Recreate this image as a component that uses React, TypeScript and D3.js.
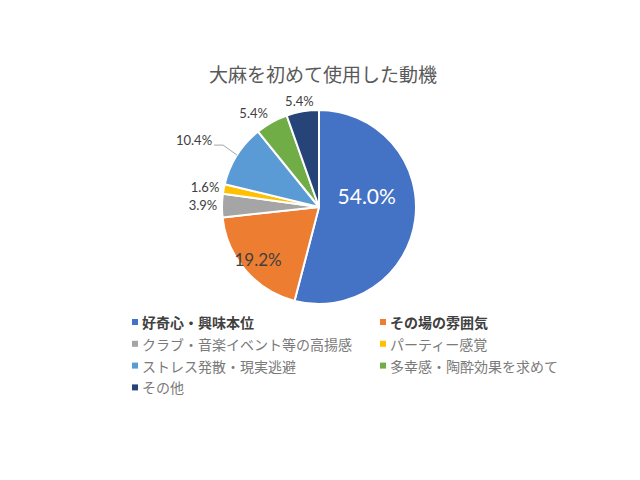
import React from "react";
import * as d3 from "d3";

const title = "大麻を初めて使用した動機";
const categories = [
  "好奇心・興味本位",
  "その場の雰囲気",
  "クラブ・音楽イベント等の高揚感",
  "パーティー感覚",
  "ストレス発散・現実逃避",
  "多幸感・陶酔効果を求めて",
  "その他",
];
const values = [54.0, 19.2, 3.9, 1.6, 10.4, 5.4, 5.4];
const colors = ["#4472C4", "#ED7D31", "#A5A5A5", "#FFC000", "#5B9BD5", "#70AD47", "#264478"];
const boldLegend = [true, true, false, false, false, false, false];

// layout
const W = 640, H = 480;
const cx = 319, cy = 207, R = 97;
const insideLabel = [true, true, false, false, false, false, false];

export default function App() {
  const pie = d3.pie<number>().sort(null).value((d) => d)(values);
  const arc = d3.arc<d3.PieArcDatum<number>>().innerRadius(0).outerRadius(R);
  const fmt = (v: number) => v.toFixed(1) + "%";
  const numFont = "Lato, 'Noto Sans', sans-serif";
  const jpFont = "'Noto Sans CJK JP', sans-serif";

  const labels = pie.map((p, i) => {
    const mid = (p.startAngle + p.endAngle) / 2;
    const s = Math.sin(mid), c = -Math.cos(mid);
    if (insideLabel[i]) {
      if (i === 0) {
        const r = 49;
        const a = mid - 0.36;
        return (
          <text key={i} x={cx + Math.sin(a) * r} y={cy - Math.cos(a) * r} textAnchor="middle" dominantBaseline="central"
            fill="#fff" fontSize={21} fontFamily={numFont}>{fmt(values[i])}</text>
        );
      }
      const r = R * 0.83;
      return (
        <text key={i} x={cx + s * r} y={cy + c * r} textAnchor="middle" dominantBaseline="central"
          fill="#404040" fontSize={17} fontFamily={numFont}>{fmt(values[i])}</text>
      );
    }
    const w = fmt(values[i]).length * 7.5;
    if (i === 4) {
      // pushed out with leader line
      const ex = cx + s * R, ey = cy + c * R;
      const kx = ex - 14, ky = ey - 10;
      const lx = kx - 9;
      return (
        <g key={i}>
          <polyline points={`${ex},${ey} ${kx},${ky} ${lx},${ky}`} fill="none" stroke="#A6A6A6" strokeWidth={1} />
          <text x={lx - 2} y={ky - 5} textAnchor="end" dominantBaseline="central" fill="#404040" fontSize={13} fontFamily={numFont}>{fmt(values[i])}</text>
        </g>
      );
    }
    const pr = R + 4;
    const x = cx + s * pr + s * (w / 2) * (i === 5 ? 2.2 : 1);
    const y = cy + c * pr + c * 7;
    return (
      <text key={i} x={x} y={y} textAnchor="middle" dominantBaseline="central" fill="#404040" fontSize={13} fontFamily={numFont}>
        {fmt(values[i])}
      </text>
    );
  });

  const legendX = [132, 380];
  const legendY0 = 322, legendDy = 21.8;

  return (
    <svg width={W} height={H} style={{ display: "block", position: "absolute", left: 0, top: 0 }}>
      <rect width={W} height={H} fill="#fff" />
      <text x={323} y={73} textAnchor="middle" dominantBaseline="central" fontSize={19} fill="#595959" fontFamily={jpFont}>
        {title}
      </text>
      <g transform={`translate(${cx},${cy})`}>
        {pie.map((p, i) => (
          <path key={i} d={arc(p) || ""} fill={colors[i]} stroke="#fff" strokeWidth={2} strokeLinejoin="round" />
        ))}
      </g>
      {labels}
      {categories.map((name, i) => {
        const col = i % 2, row = Math.floor(i / 2);
        const x = legendX[col], y = legendY0 + row * legendDy;
        return (
          <g key={i}>
            <rect x={x} y={y - 3} width={6} height={6} fill={colors[i]} />
            <text x={x + 10} y={y} dominantBaseline="central" fontSize={14} fontFamily={jpFont}
              fontWeight={boldLegend[i] ? "bold" : "normal"} fill={boldLegend[i] ? "#404040" : "#7a7a7a"}>
              {name}
            </text>
          </g>
        );
      })}
    </svg>
  );
}
